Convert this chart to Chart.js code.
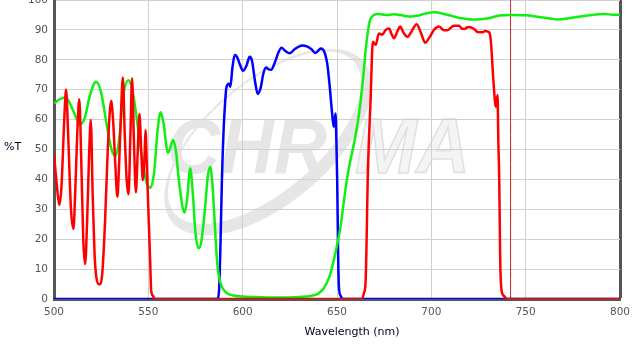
<!DOCTYPE html>
<html>
<head>
<meta charset="utf-8">
<script src="https://cdn.jsdelivr.net/npm/chart.js@4.4.1/dist/chart.umd.min.js"></script>
<style>
html,body{margin:0;padding:0;background:#fff;overflow:hidden}
#wrap{width:632px;height:345px;position:relative;overflow:hidden}
</style>
</head>
<body>
<div id="wrap"><canvas id="canvas1" width="632" height="345"></canvas></div>
<script>
// ticks
var xTicks = [500, 550, 600, 650, 700, 750, 800];
var yTicks = [0, 10, 20, 30, 40, 50, 60, 70, 80, 90, 100];

// red filter (nm / %T)
var redNm = [500,501.5,502.8,504,505.3,506.4,507.5,509,510.3,511.2,512.3,513.4,514.5,515.5,516.5,517.5,518.6,519.5,520.5,521.5,522.5,524,525.5,527,528.5,530.3,531.3,532.5,533.6,534.5,535.5,536.5,537.5,538.5,539.5,540.5,541.4,542.4,543.4,544.3,545.3,546.2,547.1,548,548.5,549.2,550,551,551.5,552.5,553.5,663,664.3,665.2,666.4,667.8,669,670.5,672.2,674,675.8,677.6,679,680.2,682,683.4,685.3,687.3,689.5,692.2,694.5,696.7,699,701.4,704.1,706.7,708.5,710.5,712,714.7,716,717.4,718.8,720,722.7,724.5,727.1,728.5,730.6,731.5,733,734.2,735.1,735.5,736,736.5,737.2,738.5,740.4,800];
var redT = [48.4,38,31.4,38,58,70.1,55,30,23.4,35,55,66.8,45,20,11.7,25,48,59.9,35,15,7,4.9,8,25,50,66.3,60,45,34.2,45,62,74.1,55,40,35,55,73.8,52,35.7,48,61.9,50,39.8,48,56.5,45,30,12,3,1,0,0,2,6.4,43,66.6,86,85,88.8,88.4,90,90.5,88.5,87.2,89.5,91.1,89,87.7,89.5,91.9,89,85.7,87.5,90,91.1,89.9,89.9,90.8,91.4,91.4,90.5,90.3,90.8,91,90.3,89.3,89.2,89.6,89.2,86.6,72.1,64.3,68.2,53.2,39.8,13,3,1,0,0];

// green filter
var greenNm = [500,503,505.8,508,510.5,514,516.5,519,522.3,525,528,530.5,532.4,534.5,536.5,539.5,541.5,543.5,546,549,551,553,555,556.5,558,560.4,561.8,563,564.5,566.5,569.2,570.5,572.2,573.5,575,576.6,578,580,581.5,582.8,584,585.5,586.5,587.8,589.5,591.7,595,600,610,620,630,636,640,643,646,648.3,650,651.9,653.5,655.4,657,659,661,662.5,664,665.2,666.5,667.5,669.6,672,676,680,685,689,693,697,702.3,706,710,715,721,726,731,736,742,750,757,763,767,772,778,785,791.7,796,800];
var greenT = [65.4,66.8,67.4,66,62.5,58.4,61,68,72.7,69,58,50,47.8,53,67,73.2,70,62,50,39,37.2,42,57,62.5,59,48.9,51,53.2,50,38,28.9,33,43.7,36,22,17,19,30,41,44.2,38,22,12,6.4,3.5,1.9,1.2,0.8,0.6,0.5,0.7,1,1.8,3.6,7.5,13,18,24.2,32,40.5,46,52,59,66,75,83.3,90,93.3,95,95.3,95,95.2,94.8,94.5,94.8,95.5,95.9,95.4,94.8,94,93.5,93.6,94,94.8,95,94.9,94.3,93.8,93.5,93.8,94.4,95,95.3,95.1,95];

// blue filter
var blueNm = [500,586.5,587.5,588.3,589,590,590.8,591.3,592.6,593.5,594.5,595.8,597,598.5,600.2,602,603.7,605,606.5,608,609.5,611,612.4,613.7,615.1,617,619,620.6,622.5,625,627.5,630,631.6,634,636.5,638.5,640,641.3,642.5,644.8,646,647.5,648.3,649.2,649.7,650.1,650.6,651,652,653,800];
var blueT = [0,0,3,20,39.8,58,66.6,70.5,72,71,77,81.6,81,78.5,76.3,78,81,79.5,73,68.6,70.5,75.5,77.4,76.8,76.7,79,82.5,84,83,82.2,83.5,84.5,84.8,84.5,83.5,82.3,83,83.8,83.5,78.8,72,61.5,57.6,62,52,39.8,15,4.1,1,0,0];

// laser line marker
var markerNm = [742, 742];
var markerT = [0, 100];

function pts(xs, ys) {
  return xs.map(function (x, i) { return { x: x, y: ys[i] }; });
}

var decor = {
  id: 'decor',
  beforeDraw: function (chart) {
    var c = chart.ctx;
    c.save();
    // swoosh
    c.fillStyle = '#e6e6e6';
    c.beginPath();
    c.ellipse(268, 142, 125, 62, -0.698, 0, Math.PI * 2);
    c.ellipse(264.5, 137.8, 117.5, 54.5, -0.698, 0, Math.PI * 2);
    c.fill('evenodd');
    // letters
    c.font = 'italic bold 77px "Liberation Sans"';
    c.textBaseline = 'alphabetic';
    var w1 = c.measureText('CHR').width;
    c.save();
    c.translate(167, 173);
    c.scale(160 / w1, 1);
    c.fillStyle = '#e6e6e6';
    c.fillText('CHR', 0, 0);
    c.restore();
    var w2 = c.measureText('MA').width;
    c.save();
    c.translate(355, 173);
    c.scale(115 / w2, 1);
    c.fillStyle = '#f4f4f4';
    c.fillText('MA', 0, 0);
    c.strokeStyle = '#e0e0e0';
    c.lineWidth = 1.5;
    c.strokeText('MA', 0, 0);
    c.restore();
    c.restore();
  },
  afterDraw: function (chart) {
    var c = chart.ctx, a = chart.chartArea;
    c.save();
    c.font = '11px "DejaVu Sans"';
    c.fillStyle = '#000022';
    c.textBaseline = 'middle';
    c.textAlign = 'left';
    c.fillText('%T', 4, (a.top + a.bottom) / 2 - 2);
    c.textAlign = 'center';
    c.fillText('Wavelength (nm)', (a.left + a.right) / 2 + 15, a.bottom + 33);
    c.restore();
  }
};

var ctx = document.getElementById('canvas1').getContext('2d');

var line = function (label, data, color, w) {
  return {
    label: label,
    data: data,
    borderColor: color,
    borderWidth: w,
    pointRadius: 0,
    fill: false,
    cubicInterpolationMode: 'monotone'
  };
};

new Chart(ctx, {
  type: 'line',
  data: {
    datasets: [
      line('red', pts(redNm, redT), '#ff0000', 2.5),
      line('green', pts(greenNm, greenT), '#11ee11', 2.5),
      line('blue', pts(blueNm, blueT), '#0000ff', 2.5),
      line('marker', pts(markerNm, markerT), '#c02020', 1)
    ]
  },
  options: {
    responsive: false,
    animation: false,
    layout: { autoPadding: false, padding: { left: 0, right: 12, top: 0, bottom: 0 } },
    plugins: { legend: { display: false }, tooltip: { enabled: false } },
    scales: {
      x: {
        type: 'linear',
        min: 500,
        max: 800,
        afterFit: function (s) { s.height = 46; s.paddingLeft = 0; s.paddingRight = 0; },
        afterBuildTicks: function (s) { s.ticks = xTicks.map(function (v) { return { value: v }; }); },
        border: { color: '#555', width: 3 },
        grid: {
          drawTicks: false,
          color: function (c) { return c.tick && c.tick.value === 800 ? '#555' : (c.tick && c.tick.value === 500 ? 'rgba(0,0,0,0)' : '#d0d0d0'); },
          lineWidth: function (c) { return c.tick && c.tick.value === 800 ? 3 : 1; }
        },
        ticks: { padding: 7, color: '#555', font: { family: 'DejaVu Sans', size: 10.5 } }
      },
      y: {
        min: 0,
        max: 100,
        afterFit: function (s) { s.width = 54; s.paddingTop = 0; s.paddingBottom = 0; },
        afterBuildTicks: function (s) { s.ticks = yTicks.map(function (v) { return { value: v }; }); },
        border: { color: '#555', width: 3 },
        grid: { drawTicks: false, color: '#d0d0d0', lineWidth: 1 },
        ticks: { padding: 6, color: '#555', font: { family: 'DejaVu Sans', size: 10.5 } }
      }
    }
  },
  plugins: [decor]
});
</script>
</body>
</html>
